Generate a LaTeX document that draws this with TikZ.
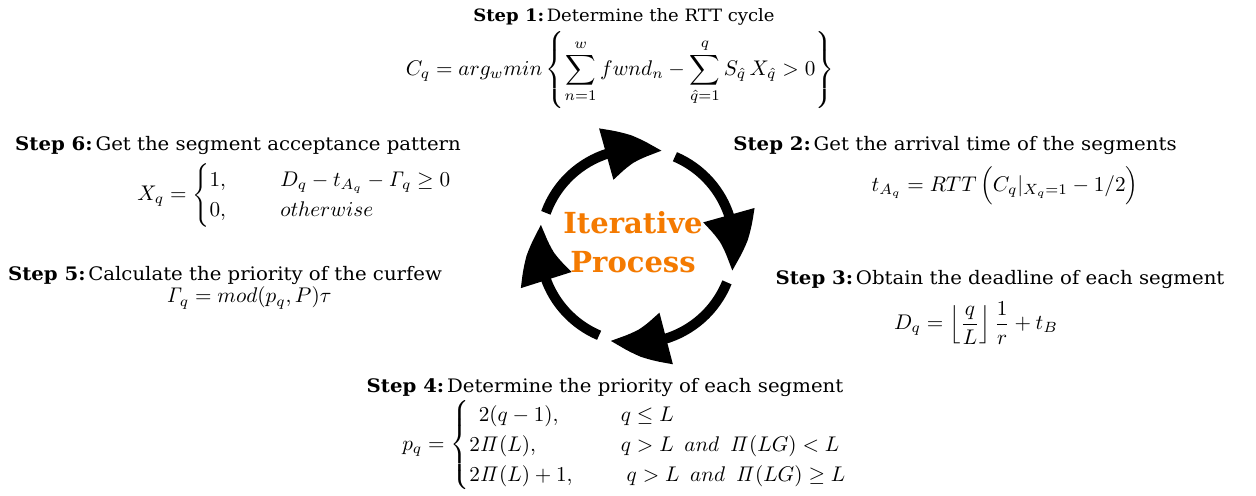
\documentclass[tikz,border=0pt]{standalone}
\usepackage{fix-cm}
\usepackage{amsmath,amssymb}
\usepackage[no-math]{fontspec}
\usetikzlibrary{arrows.meta,bending}
\newfontfamily\slab[FakeStretch=1.06]{DejaVu Serif}
\newfontfamily\slabwide{DejaVu Serif}
\definecolor{procorange}{RGB}{244,122,0}
\tikzset{
  steptitle/.style={font=\slab\fontsize{9.3}{11}\selectfont, inner sep=0pt},
  formula/.style={font=\fontsize{10.6}{12.5}\selectfont, inner sep=0pt},
  cyclearrow/.style={line width=5pt, black,
    -{Triangle[length=29pt,width=25pt,bend]}},
}
\newcommand{\steplabel}[1]{\textbf{Step #1:}\hspace{0.15em}}
\begin{document}
\begin{tikzpicture}[x=0.5pt,y=0.5pt]
\useasboundingbox (0,0) rectangle (1256,495);
\fill[white] (0,0) rectangle (1256,495);

% the cycle of four curved arrows
\coordinate (c) at (637,249);
\def\rr{97}
\draw[cyclearrow] ([shift={(160:\rr)}]c) arc[start angle=160, end angle=75, radius=\rr];
\draw[cyclearrow] ([shift={(67:\rr)}]c) arc[start angle=67, end angle=-15, radius=\rr];
\draw[cyclearrow] ([shift={(-22:\rr)}]c) arc[start angle=-22, end angle=-106, radius=\rr];
\draw[cyclearrow] ([shift={(-113:\rr)}]c) arc[start angle=-113, end angle=-193, radius=\rr];

\node[font=\slabwide\bfseries\fontsize{14.5}{19.5}\selectfont, text=procorange, align=center, inner sep=0pt]
  (center) at (633,253) {Iterative\\Process};

% Step 1
\node[steptitle, font=\slab\fontsize{8.5}{10}\selectfont] (s1) at (624,478) {\steplabel{1}Determine the RTT cycle};
\node[formula] (f1) at (620,425) {$\displaystyle C_q = arg_w min\left\{\sum_{n=1}^{w} fwnd_n-\sum_{\hat{q}=1}^{q} S_{\hat{q}}\,X_{\hat{q}}>0\right\}$};

% Step 2
\node[steptitle] (s2) at (955,350) {\steplabel{2}Get the arrival time of the segments};
\node[formula] (f2) at (1005,309) {$\displaystyle t_{A_q} = RTT\,\Bigl(C_q|_{X_q=1}-1/2\Bigr)$};

% Step 3
\node[steptitle] (s3) at (1000,216) {\steplabel{3}Obtain the deadline of each segment};
\node[formula] (f3) at (976,172) {$\displaystyle D_q = \left\lfloor\frac{q}{L}\right\rfloor\frac{1}{r}+t_B$};

% Step 4
\node[steptitle] (s4) at (605,108) {\steplabel{4}Determine the priority of each segment};
\node[formula] (f4) at (625,50) {$\displaystyle p_q = \begin{cases}
\;\,2(q-1), & \quad\; q\le L\\
2\mathit{\Pi}(L), & \quad\; q>L\ \,and\ \,\mathit{\Pi}(LG)<L\\
2\mathit{\Pi}(L)+1, & \quad\;\; q>L\ \,and\ \,\mathit{\Pi}(LG)\ge L
\end{cases}$};

% Step 5
\node[steptitle] (s5) at (225,220) {\steplabel{5}Calculate the priority of the curfew};
\node[formula] (f5) at (249,197) {$\displaystyle \mathit{\Gamma}_q = mod(p_q,P)\tau$};

% Step 6
\node[steptitle] (s6) at (238,350) {\steplabel{6}Get the segment acceptance pattern};
\node[formula] (f6) at (295,300) {$\displaystyle X_q = \begin{cases}
1, & \quad\;\; D_q-t_{A_q}-\mathit{\Gamma}_q\ge 0\\
0, & \quad\;\; otherwise
\end{cases}$};
\end{tikzpicture}
\end{document}
